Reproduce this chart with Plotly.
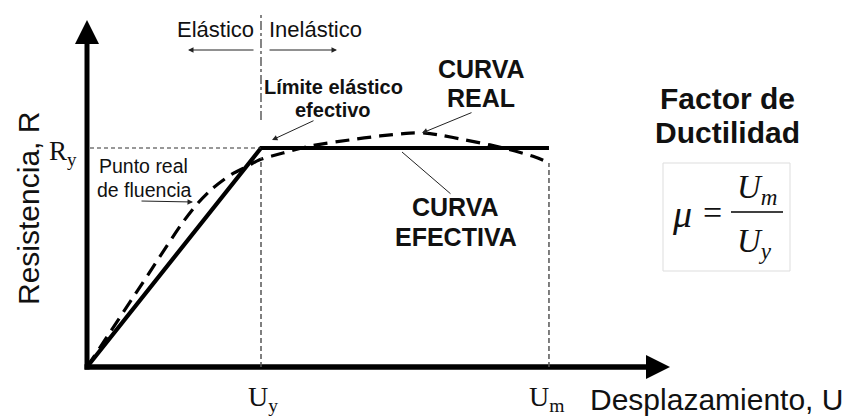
import plotly.graph_objects as go

# ---------------- data (normalised: U/Uy, R/Ry) ----------------
Uy = 1.0
Um = 2.655
Ry = 1.0
u_effective = [0.0, Uy, Um]
r_effective = [0.0, Ry, Ry]
u_real = [0.0, 0.28, 0.552, 0.638, 0.718, 0.833, 0.920, 0.989, 1.126, 1.282,
          1.511, 1.684, 1.856, 1.943, 2.029, 2.172, 2.316, 2.460, 2.575, 2.655]
r_real = [0.0, 0.336, 0.662, 0.749, 0.813, 0.881, 0.916, 0.945, 0.977, 1.009,
          1.037, 1.055, 1.068, 1.068, 1.059, 1.037, 1.014, 0.986, 0.959, 0.932]

# ---------------- layout geometry ----------------
W, H = 846, 416
OX, OY = 87, 367          # pixel position of origin
SX, SY = 174.0, 219.0     # pixels per data unit
x_range = [-OX / SX, (W - OX) / SX]
y_range = [-(H - OY) / SY, OY / SY]
x_axis_end = (670 - OX) / SX
y_axis_end = (OY - 20) / SY
HEAD_L, HEAD_W = 24.0, 12.0

SANS = "Liberation Sans, Arial, sans-serif"
SERIF = "Liberation Serif, Times New Roman, serif"

fig = go.Figure()

# real curve (dashed)
fig.add_trace(go.Scatter(x=u_real, y=r_real, mode="lines",
                         line=dict(color="black", width=3.2, dash="14px,8px", shape="spline", smoothing=0.8),
                         hoverinfo="skip", showlegend=False))
# effective curve (solid)
fig.add_trace(go.Scatter(x=u_effective, y=r_effective, mode="lines",
                         line=dict(color="black", width=4.2),
                         hoverinfo="skip", showlegend=False))

shapes = []
# axes shafts
shapes.append(dict(type="line", xref="x", yref="y", x0=0, y0=-2.5 / SY, x1=0, y1=y_axis_end - HEAD_L / SY + 0.5 / SY,
                   line=dict(color="black", width=5)))
shapes.append(dict(type="line", xref="x", yref="y", x0=-2.5 / SX, y0=0, x1=x_axis_end - HEAD_L / SX, y1=0,
                   line=dict(color="black", width=5.5)))
# arrow heads
shapes.append(dict(type="path", xref="x", yref="y", fillcolor="black", line=dict(width=0),
                   path=f"M {-HEAD_W / SX},{y_axis_end - HEAD_L / SY} L {HEAD_W / SX},{y_axis_end - HEAD_L / SY} L 0,{y_axis_end} Z"))
shapes.append(dict(type="path", xref="x", yref="y", fillcolor="black", line=dict(width=0),
                   path=f"M {x_axis_end - HEAD_L / SX},{-HEAD_W / SY} L {x_axis_end - HEAD_L / SX},{HEAD_W / SY} L {x_axis_end},0 Z"))
# reference lines
shapes.append(dict(type="line", xref="x", yref="y", x0=3 / SX, y0=Ry, x1=Uy, y1=Ry,
                   line=dict(color="#333", width=1.2, dash="4px,3px")))
shapes.append(dict(type="line", xref="x", yref="y", x0=Uy, y0=0, x1=Uy, y1=Ry - 10 / SY,
                   line=dict(color="#555", width=1.5, dash="5px,3px")))
shapes.append(dict(type="line", xref="x", yref="y", x0=Uy, y0=(OY - 120) / SY, x1=Uy, y1=(OY - 12) / SY,
                   line=dict(color="#444", width=1.3, dash="dashdot")))
shapes.append(dict(type="line", xref="x", yref="y", x0=Um, y0=0, x1=Um, y1=r_real[-1],
                   line=dict(color="#555", width=1.5, dash="5px,3px")))


def P(px, py):
    return px / W, 1 - py / H


# formula box and fraction bar
bx0, by0 = P(663, 163)
bx1, by1 = P(790, 271)
shapes.append(dict(type="rect", xref="paper", yref="paper", x0=bx0, y0=by1, x1=bx1, y1=by0,
                   line=dict(color="#dddddd", width=1)))
fx0, fy = P(731, 212)
fx1, _ = P(783, 212)
shapes.append(dict(type="line", xref="paper", yref="paper", x0=fx0, y0=fy, x1=fx1, y1=fy,
                   line=dict(color="black", width=1.6)))

ann = []


def txt(px, py, s, size, family=SANS, xanchor="center", yanchor="middle", angle=0, color="#111"):
    x, y = P(px, py)
    ann.append(dict(x=x, y=y, xref="paper", yref="paper", text=s, showarrow=False,
                    font=dict(family=family, size=size, color=color),
                    xanchor=xanchor, yanchor=yanchor, textangle=angle))


def arrow(tx, ty, hx, hy, head=2):
    x, y = P(hx, hy)
    ann.append(dict(x=x, y=y, xref="paper", yref="paper", text="", showarrow=True,
                    axref="pixel", ayref="pixel", ax=tx - hx, ay=ty - hy,
                    arrowhead=head, arrowsize=1.1, arrowwidth=1, arrowcolor="#222", standoff=0))


txt(216, 30, "Elástico", 22)
txt(315, 30, "Inelástico", 22)
arrow(255, 50, 188, 50)
arrow(268, 50, 337, 50)

txt(333, 87, "<b>Límite elástico</b>", 20)
txt(333, 110, "<b>efectivo</b>", 20)
arrow(315, 120, 272, 140)

txt(481, 69, "<b>CURVA</b>", 25)
txt(481, 98, "<b>REAL</b>", 25)
arrow(473, 112, 422, 133)

txt(455, 207, "<b>CURVA</b>", 25)
txt(456, 237, "<b>EFECTIVA</b>", 25)
arrow(452, 195, 402, 152, head=0)

txt(143, 166, "Punto real", 19.5)
txt(144, 190, "de fluencia", 19.5)
arrow(140, 201, 193, 202)

txt(727, 98, "<b>Factor de</b>", 30)
txt(727, 132, "<b>Ductilidad</b>", 30)

txt(28, 209, "Resistencia, R", 30, angle=-90)
txt(716, 399, "Desplazamiento, U", 30)

txt(63, 153, "R<sub>y</sub>", 27, family=SERIF)
txt(263, 398, "U<sub>y</sub>", 28, family=SERIF)
txt(546, 398, "U<sub>m</sub>", 28, family=SERIF)

# formula
txt(682, 214, "<i>μ</i>", 38, family=SERIF)
txt(712, 212, "=", 34, family=SERIF)
txt(757, 189, "<i>U<sub>m</sub></i>", 33, family=SERIF)
txt(754, 243, "<i>U<sub>y</sub></i>", 33, family=SERIF)

fig.update_layout(
    width=W, height=H,
    margin=dict(l=0, r=0, t=0, b=0),
    paper_bgcolor="white", plot_bgcolor="white",
    xaxis=dict(range=x_range, visible=False, fixedrange=True),
    yaxis=dict(range=y_range, visible=False, fixedrange=True),
    shapes=shapes, annotations=ann, showlegend=False,
)

fig.write_html("out.html", config={"displayModeBar": False},
               post_script="document.body.style.margin='0px';document.body.style.overflow='hidden';")
